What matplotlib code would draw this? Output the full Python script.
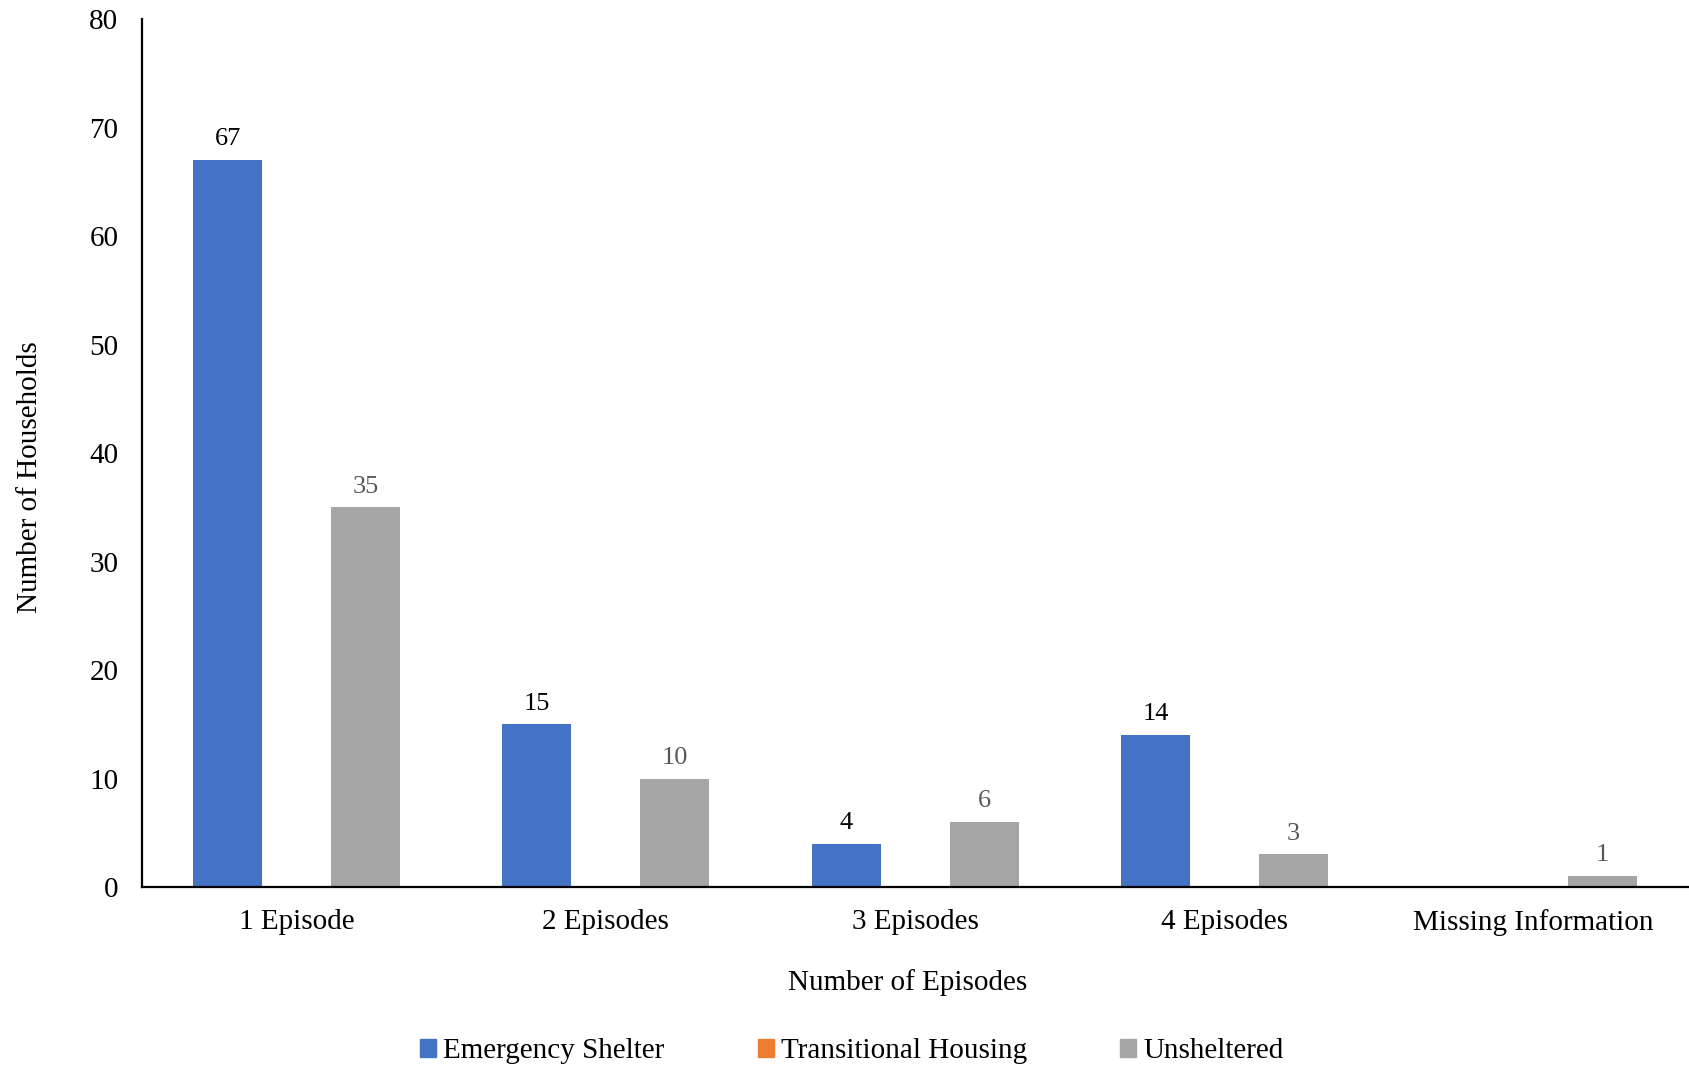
import numpy as np
import matplotlib.pyplot as plt
from matplotlib.patches import Patch

plt.rcParams['font.family'] = ['Liberation Serif', 'DejaVu Serif']

categories = ['1 Episode', '2 Episodes', '3 Episodes', '4 Episodes', 'Missing Information']
emergency = [67, 15, 4, 14, 0]
transitional = [0, 0, 0, 0, 0]
unsheltered = [35, 10, 6, 3, 1]

series = ['Emergency Shelter', 'Transitional Housing', 'Unsheltered']
colors = ['#4472C4', '#ED7D31', '#A5A5A5']
label_colors = ['black', None, '#595959']

fig = plt.figure(figsize=(16.9, 10.67), dpi=100)
ax = fig.add_axes([0.084, 0.1687, 0.915, 0.8133])

x = np.arange(len(categories))
width = 0.223
for i, (vals, col, lc) in enumerate(zip([emergency, transitional, unsheltered], colors, label_colors)):
    bars = ax.bar(x + (i - 1) * width, vals, width, color=col)
    if lc is None:
        continue
    for b, v in zip(bars, vals):
        if v > 0:
            ax.annotate(str(v), (b.get_x() + b.get_width() / 2, v), xytext=(0, 7),
                        textcoords='offset points', ha='center', va='bottom',
                        fontsize=19, color=lc)

ax.set_xlim(-0.5, len(categories) - 0.5)
ax.set_ylim(0, 80)
ax.set_yticks(range(0, 81, 10))
ax.set_xticks(x)
ax.set_xticklabels(categories)
ax.tick_params(length=0, labelsize=21)
ax.tick_params(axis='x', pad=16)
ax.tick_params(axis='y', pad=17)
for s in ['top', 'right']:
    ax.spines[s].set_visible(False)
for s in ['left', 'bottom']:
    ax.spines[s].set_linewidth(1.6)

ax.set_xlabel('Number of Episodes', fontsize=21, labelpad=24)
ax.set_ylabel('Number of Households', fontsize=21, labelpad=33)
ax.xaxis.label.set_x(0.495)
ax.yaxis.label.set_y(0.472)

handles = [Patch(color=c, label=s) for s, c in zip(series, colors)]
fig.legend(handles=handles, loc='lower center', bbox_to_anchor=(0.504, -0.022), ncol=3,
           frameon=False, fontsize=21, handlelength=0.55, handleheight=0.55,
           handletextpad=0.25, columnspacing=3.2)

fig.savefig('out.png', dpi=100)
